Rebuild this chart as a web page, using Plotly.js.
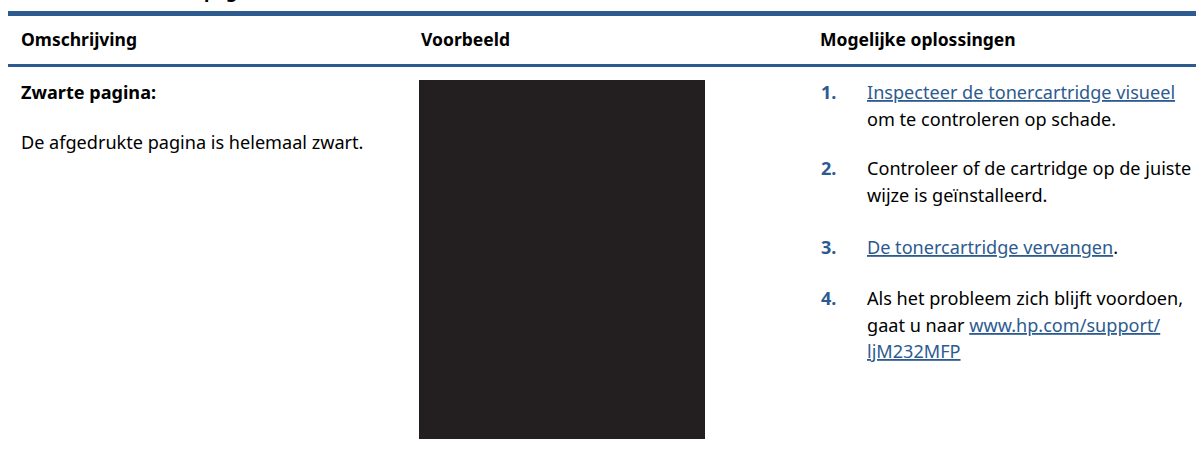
<!DOCTYPE html>
<html>
<head>
<meta charset="utf-8">
<script src="https://cdn.plot.ly/plotly-3.0.1.min.js"></script>
<style>html,body{margin:0;padding:0;background:#fff;}#chart{width:1196px;height:454px;}</style>
</head>
<body>
<div id="chart"></div>
<script>
// ---- content ----
const pageTitle = "Zwarte pagina";
const headers = ["Omschrijving", "Voorbeeld", "Mogelijke oplossingen"];
const problemTitle = "Zwarte pagina:";
const problemText = "De afgedrukte pagina is helemaal zwart.";
const stepNumbers = ["1.", "2.", "3.", "4."];
// each step: list of lines; each line: list of [text, isLink]
const stepLines = [
  [[["Inspecteer de tonercartridge visueel", true]], [["om te controleren op schade.", false]]],
  [[["Controleer of de cartridge op de juiste", false]], [["wijze is geïnstalleerd.", false]]],
  [[["De tonercartridge vervangen", true], [".", false]]],
  [[["Als het probleem zich blijft voordoen,", false]], [["gaat u naar ", false], ["www.hp.com/support/", true]], [["ljM232MFP", true]]]
];
const exampleFill = "#231f20";

// ---- layout ----
const W = 1196, H = 454;
const BLUE = "#2d5b90";
const FONT = "Noto Sans";
const BODY = 18.1;
const colX = [20, 420, 819];
const stepY = [92, 168, 247, 298];
const lineGap = 26.5;

function fmtLine(parts) {
  return parts.map(([t, link]) => link
    ? '<span style="text-decoration:underline;fill:' + BLUE + ';color:' + BLUE + '">' + t + '</span>'
    : t).join("");
}

const annotations = [];
function ann(text, x, y, opts) {
  annotations.push(Object.assign({
    text: text, x: x, y: y, xref: "x", yref: "y",
    xanchor: "left", yanchor: "middle", showarrow: false,
    font: {family: FONT, size: BODY, color: "#000"}
  }, opts || {}));
}

// cut-off page title at the very top
annotations.push({
  text: "<b>" + pageTitle + "</b>", x: 134, y: 1 + 9.5 / H, xref: "x", yref: "paper",
  xanchor: "left", yanchor: "middle", showarrow: false,
  font: {family: FONT, size: 18, color: "#000"}
});

headers.forEach((h, i) => ann("<b>" + h + "</b>", colX[i] - 1, 39, {font: {family: FONT, size: 17.5, color: "#000"}}));
ann("<b>" + problemTitle + "</b>", colX[0] - 1, 92);
ann(problemText, colX[0] - 1, 142);

stepNumbers.forEach((n, i) => {
  ann("<b>" + n + "</b>", 819, stepY[i], {font: {family: FONT, size: BODY, color: BLUE}});
  stepLines[i].forEach((parts, j) => {
    ann(fmtLine(parts), 865, stepY[i] + j * lineGap);
  });
});

const shapes = [
  {type: "rect", xref: "x", yref: "y", x0: 8, x1: W, y0: 11, y1: 16, fillcolor: BLUE, line: {width: 0}, layer: "below"},
  {type: "rect", xref: "x", yref: "y", x0: 8, x1: W, y0: 64, y1: 67, fillcolor: BLUE, line: {width: 0}, layer: "below"}
];

// the example (black printed page) drawn as a filled trace
const data = [{
  type: "scatter", mode: "lines",
  x: [419, 705, 705, 419, 419], y: [80, 80, 439, 439, 80],
  fill: "toself", fillcolor: exampleFill, line: {width: 0, color: exampleFill},
  hoverinfo: "skip", showlegend: false
}];

const layout = {
  width: W, height: H,
  margin: {l: 0, r: 0, t: 0, b: 0},
  paper_bgcolor: "#fff", plot_bgcolor: "#fff",
  xaxis: {range: [0, W], visible: false, fixedrange: true},
  yaxis: {range: [H, 0], visible: false, fixedrange: true},
  showlegend: false,
  shapes: shapes,
  annotations: annotations
};

Plotly.newPlot("chart", data, layout, {staticPlot: true, displayModeBar: false});
</script>
</body>
</html>
